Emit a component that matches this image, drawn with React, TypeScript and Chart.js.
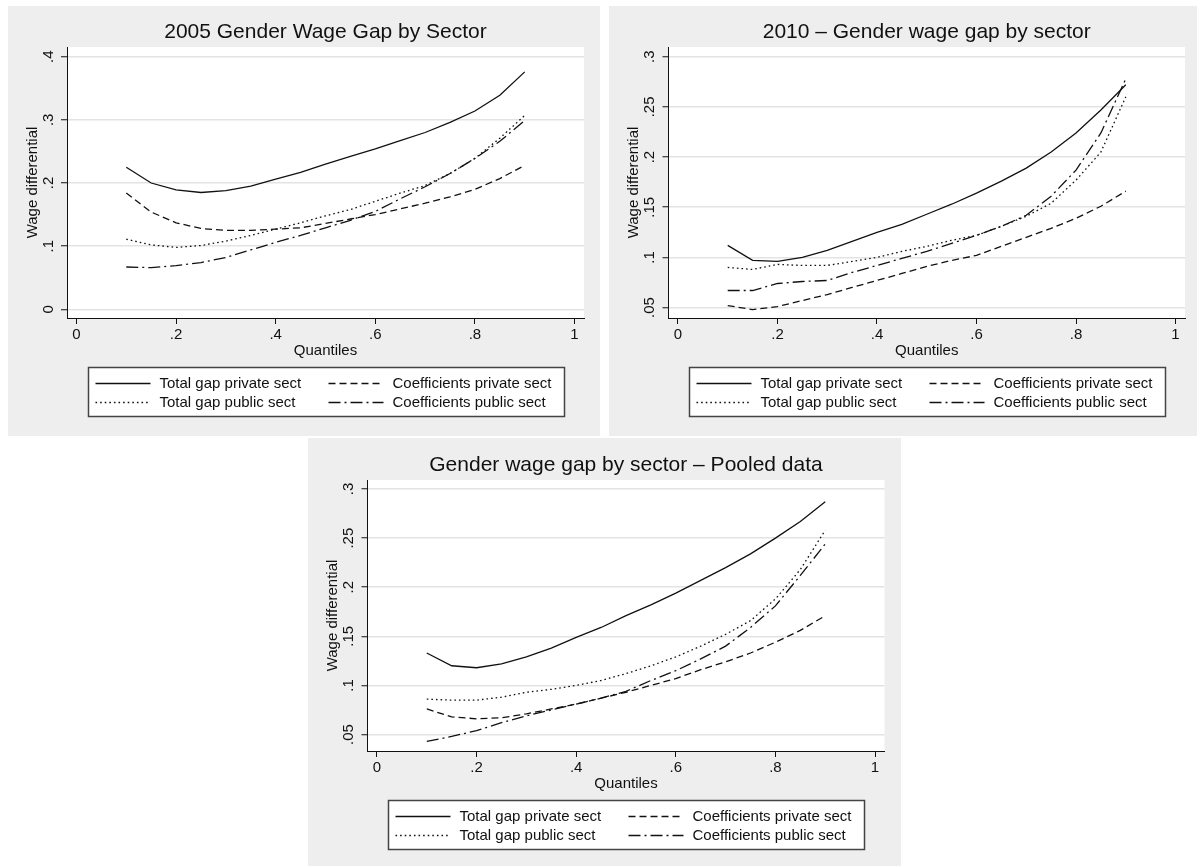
import React, { useEffect, useRef } from "react";
import { Chart, registerables } from "chart.js";

Chart.register(...registerables);

// ---------------- data ----------------
const quantiles = [0.1, 0.15, 0.2, 0.25, 0.3, 0.35, 0.4, 0.45, 0.5, 0.55, 0.6, 0.65, 0.7, 0.75, 0.8, 0.85, 0.9];
const xTicks = [0, 0.2, 0.4, 0.6, 0.8, 1];
const seriesLabels = ["Total gap private sect", "Coefficients private sect", "Total gap public sect", "Coefficients public sect"];

const title2005 = "2005 Gender Wage Gap by Sector";
const yTicks2005 = [0, 0.1, 0.2, 0.3, 0.4];
const totalPrivate2005 = [0.225, 0.2, 0.189, 0.185, 0.188, 0.195, 0.206, 0.217, 0.23, 0.242, 0.254, 0.267, 0.28, 0.296, 0.314, 0.339, 0.376];
const coefPrivate2005 = [0.184, 0.154, 0.137, 0.128, 0.125, 0.125, 0.127, 0.129, 0.136, 0.143, 0.15, 0.159, 0.168, 0.178, 0.19, 0.207, 0.228];
const totalPublic2005 = [0.111, 0.102, 0.098, 0.101, 0.108, 0.117, 0.127, 0.137, 0.148, 0.158, 0.171, 0.184, 0.196, 0.215, 0.239, 0.271, 0.307];
const coefPublic2005 = [0.067, 0.066, 0.069, 0.074, 0.082, 0.094, 0.106, 0.117, 0.129, 0.141, 0.155, 0.175, 0.194, 0.215, 0.239, 0.266, 0.299];

const title2010 = "2010 \u2013 Gender wage gap by sector";
const yTicks2010 = [0.05, 0.1, 0.15, 0.2, 0.25, 0.3];
const totalPrivate2010 = [0.112, 0.097, 0.096, 0.1, 0.107, 0.116, 0.125, 0.133, 0.143, 0.153, 0.164, 0.176, 0.189, 0.205, 0.224, 0.247, 0.272];
const coefPrivate2010 = [0.052, 0.048, 0.051, 0.057, 0.063, 0.07, 0.077, 0.084, 0.091, 0.097, 0.102, 0.111, 0.12, 0.129, 0.139, 0.151, 0.166];
const totalPublic2010 = [0.09, 0.088, 0.093, 0.092, 0.092, 0.096, 0.1, 0.106, 0.111, 0.117, 0.122, 0.131, 0.141, 0.154, 0.177, 0.205, 0.26];
const coefPublic2010 = [0.067, 0.067, 0.074, 0.076, 0.077, 0.085, 0.092, 0.099, 0.106, 0.114, 0.122, 0.131, 0.142, 0.161, 0.187, 0.224, 0.278];

const titlePooled = "Gender wage gap by sector \u2013 Pooled data";
const yTicksPooled = [0.05, 0.1, 0.15, 0.2, 0.25, 0.3];
const totalPrivatePooled = [0.133, 0.12, 0.118, 0.122, 0.129, 0.138, 0.149, 0.159, 0.171, 0.182, 0.194, 0.207, 0.22, 0.234, 0.25, 0.267, 0.287];
const coefPrivatePooled = [0.076, 0.068, 0.066, 0.067, 0.071, 0.076, 0.081, 0.087, 0.093, 0.1, 0.107, 0.116, 0.124, 0.133, 0.144, 0.156, 0.171];
const totalPublicPooled = [0.086, 0.085, 0.085, 0.088, 0.093, 0.096, 0.1, 0.105, 0.112, 0.12, 0.129, 0.14, 0.152, 0.166, 0.188, 0.218, 0.258];
const coefPublicPooled = [0.043, 0.048, 0.054, 0.062, 0.069, 0.075, 0.081, 0.087, 0.094, 0.105, 0.115, 0.127, 0.14, 0.159, 0.181, 0.212, 0.244];

// ---------------- styles ----------------
const FONT = '"Liberation Sans", Arial, Helvetica, sans-serif';
const INK = "#111111";
const PANEL_BG = "#eeeeee";
const LABEL_SIZE = 15;
const TITLE_SIZE = 21;
const lineStyles = [
  { dash: [] as number[] },
  { dash: [7, 4] },
  { dash: [1.6, 3] },
  { dash: [12, 4, 2, 4] },
];

const fmt = (v: number) => {
  const s = String(Math.round(v * 100) / 100);
  return s.startsWith("0.") ? s.slice(1) : s;
};

const plotBg = {
  id: "plotBg",
  beforeDraw(chart: any) {
    const { ctx, chartArea } = chart;
    ctx.save();
    ctx.fillStyle = "#ffffff";
    ctx.fillRect(chartArea.left, chartArea.top, chartArea.right - chartArea.left, chartArea.bottom - chartArea.top);
    ctx.restore();
  },
};

const boxLegend = {
  id: "boxLegend",
  afterDraw(chart: any, _args: any, opts: any) {
    const { ctx, chartArea } = chart;
    const w = 476;
    const h = 49;
    const x0 = Math.round((chartArea.left + chartArea.right) / 2 - w / 2) + 0.5;
    const y0 = opts.top + 0.5;
    ctx.save();
    ctx.fillStyle = "#ffffff";
    ctx.fillRect(x0, y0, w, h);
    ctx.strokeStyle = "#444444";
    ctx.lineWidth = 1.5;
    ctx.setLineDash([]);
    ctx.strokeRect(x0, y0, w, h);
    chart.data.datasets.forEach((d: any, i: number) => {
      const col = i % 2;
      const row = Math.floor(i / 2);
      const sx = x0 + (col ? 240 : 7);
      const sy = y0 + (row ? 35 : 16);
      ctx.setLineDash(d.borderDash || []);
      ctx.strokeStyle = d.borderColor;
      ctx.lineWidth = d.borderWidth;
      ctx.beginPath();
      ctx.moveTo(sx, sy);
      ctx.lineTo(sx + 55, sy);
      ctx.stroke();
      ctx.setLineDash([]);
      ctx.fillStyle = INK;
      ctx.font = `${LABEL_SIZE}px ${FONT}`;
      ctx.textBaseline = "middle";
      ctx.textAlign = "left";
      ctx.fillText(d.label, sx + 64, sy + 0.5);
    });
    ctx.restore();
  },
};

type PanelProps = {
  left: number;
  top: number;
  width: number;
  height: number;
  area: { l: number; t: number; r: number; b: number };
  title: string;
  yTicks: number[];
  yMin: number;
  yMax: number;
  yPad: number;
  series: number[][];
  legendTop: number;
};

function Panel(p: PanelProps) {
  const ref = useRef<HTMLCanvasElement | null>(null);
  useEffect(() => {
    if (!ref.current) return;
    const xAxisH = 44;
    const titleLH = TITLE_SIZE * 1.2;
    const titleCenter = p.area.t - 14.5;
    const chart = new Chart(ref.current, {
      type: "line",
      data: {
        datasets: p.series.map((vals, i) => ({
          label: seriesLabels[i],
          data: quantiles.map((q, j) => ({ x: q, y: vals[j] })),
          borderColor: INK,
          borderWidth: 1.3,
          borderDash: lineStyles[i].dash,
          pointRadius: 0,
          fill: false,
          tension: 0,
        })),
      },
      options: {
        animation: false,
        responsive: false,
        events: [],
        layout: {
          padding: { left: 0, top: 0, right: p.width - p.area.r, bottom: p.height - p.area.b - xAxisH },
        },
        plugins: {
          legend: { display: false },
          tooltip: { enabled: false },
          title: {
            display: true,
            text: p.title,
            fullSize: false,
            color: INK,
            font: { family: FONT, size: TITLE_SIZE, weight: "normal", lineHeight: 1.2 },
            padding: { top: titleCenter - titleLH / 2, bottom: p.area.t - titleCenter - titleLH / 2 },
          },
          boxLegend: { top: p.legendTop },
        } as any,
        scales: {
          x: {
            type: "linear",
            min: -0.019,
            max: 1.019,
            afterBuildTicks: (s: any) => {
              s.ticks = xTicks.map((v) => ({ value: v }));
            },
            afterFit: (s: any) => {
              s.height = xAxisH;
            },
            ticks: {
              autoSkip: false,
              maxRotation: 0,
              minRotation: 0,
              padding: 2,
              color: INK,
              font: { family: FONT, size: LABEL_SIZE },
              callback: (v: any) => fmt(Number(v)),
            },
            grid: { drawOnChartArea: false, drawTicks: true, tickLength: 6, tickColor: INK, tickWidth: 1 },
            border: { display: true, color: INK, width: 1 },
            title: {
              display: true,
              text: "Quantiles",
              color: INK,
              font: { family: FONT, size: LABEL_SIZE, lineHeight: 1.2 },
              padding: { top: 0, bottom: 2.5 },
            },
          },
          y: {
            type: "linear",
            min: p.yMin,
            max: p.yMax,
            afterBuildTicks: (s: any) => {
              s.ticks = p.yTicks.map((v) => ({ value: v }));
            },
            afterFit: (s: any) => {
              s.width = p.area.l;
            },
            ticks: {
              autoSkip: false,
              minRotation: 90,
              maxRotation: 90,
              crossAlign: "center",
              padding: p.yPad,
              color: INK,
              font: { family: FONT, size: LABEL_SIZE },
              callback: (v: any) => fmt(Number(v)),
            },
            grid: { color: "#e3e3e3", lineWidth: 1.5, drawTicks: true, tickLength: 6, tickColor: INK, tickWidth: 1 },
            border: { display: true, color: INK, width: 1 },
            title: {
              display: true,
              text: "Wage differential",
              color: INK,
              font: { family: FONT, size: LABEL_SIZE, lineHeight: 1.2 },
              padding: { top: 16, bottom: 0 },
            },
          },
        },
      } as any,
      plugins: [plotBg, boxLegend],
    });
    return () => chart.destroy();
  }, []);
  return (
    <div
      style={{
        position: "absolute",
        left: p.left,
        top: p.top,
        width: p.width,
        height: p.height,
        background: PANEL_BG,
      }}
    >
      <canvas ref={ref} width={p.width} height={p.height} style={{ display: "block" }} />
    </div>
  );
}

export default function App() {
  return (
    <div style={{ position: "absolute", left: 0, top: 0, width: 1197, height: 866, background: "#ffffff", overflow: "hidden" }}>
      <Panel
        left={8}
        top={6}
        width={592}
        height={430}
        area={{ l: 59, t: 41, r: 576, b: 312 }}
        title={title2005}
        yTicks={yTicks2005}
        yMin={-0.0138}
        yMax={0.4154}
        yPad={6}
        series={[totalPrivate2005, coefPrivate2005, totalPublic2005, coefPublic2005]}
        legendTop={361}
      />
      <Panel
        left={609}
        top={6}
        width={588}
        height={430}
        area={{ l: 59.5, t: 41, r: 576, b: 312 }}
        title={title2010}
        yTicks={yTicks2010}
        yMin={0.0396}
        yMax={0.3097}
        yPad={2.2}
        series={[totalPrivate2010, coefPrivate2010, totalPublic2010, coefPublic2010]}
        legendTop={361}
      />
      <Panel
        left={308}
        top={438}
        width={593}
        height={428}
        area={{ l: 59.5, t: 42, r: 576.5, b: 313 }}
        title={titlePooled}
        yTicks={yTicksPooled}
        yMin={0.0332}
        yMax={0.3092}
        yPad={2.2}
        series={[totalPrivatePooled, coefPrivatePooled, totalPublicPooled, coefPublicPooled]}
        legendTop={362}
      />
    </div>
  );
}
